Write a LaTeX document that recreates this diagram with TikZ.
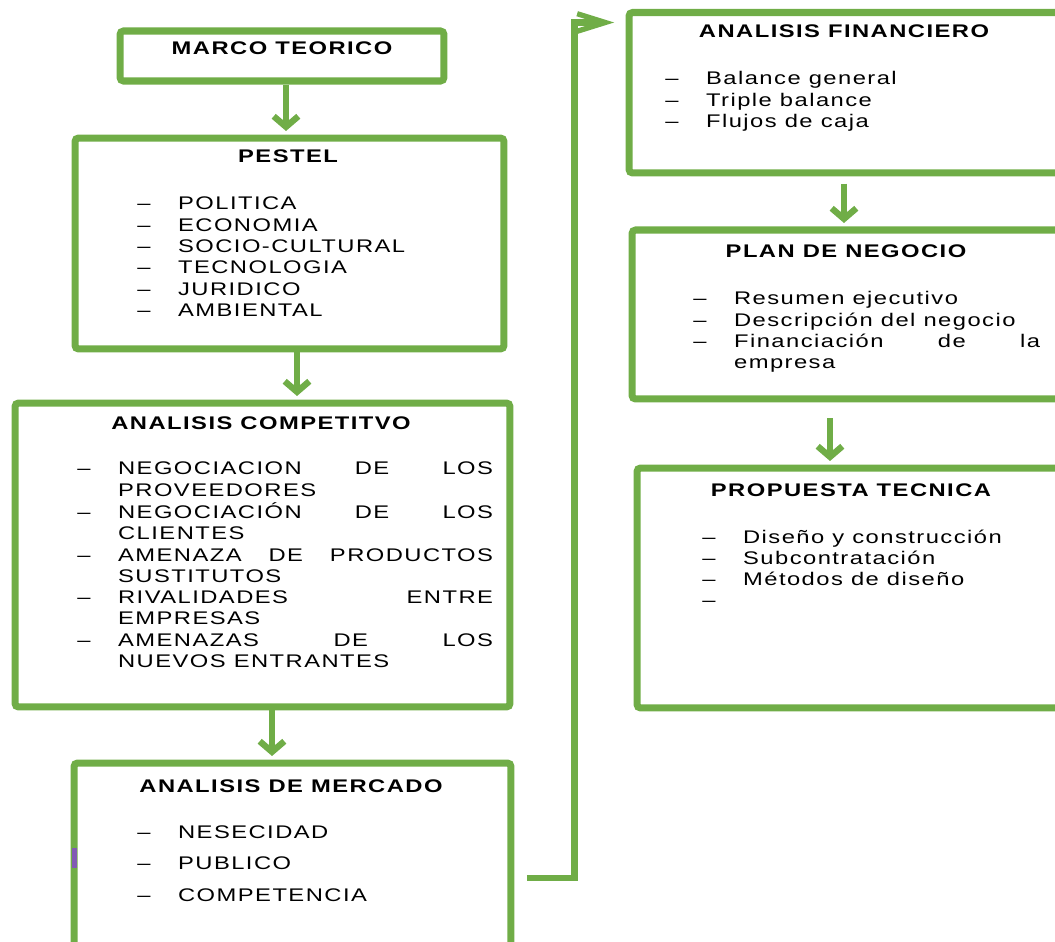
\documentclass[tikz,border=0pt]{standalone}
\usepackage{fontspec}
\setmainfont{Liberation Sans}[FakeStretch=1.3,LetterSpace=8]
\usetikzlibrary{arrows.meta,calc}
\definecolor{leaf}{RGB}{112,173,71}
\definecolor{plum}{RGB}{130,90,180}
\newcommand{\itm}[1]{\makebox[23.2pt][l]{–}#1}
\newcommand{\cnt}[1]{\hspace*{23.2pt}#1}
\newcommand{\jst}[2]{\hbox to #1{#2}}
\newcommand{\lst}[1]{\begin{tabular}[t]{@{}l@{}}#1\end{tabular}}

\begin{document}
\begin{tikzpicture}[x=0.02cm,y=-0.02cm,
    font=\fontsize{10.4}{12.1}\selectfont,
    box/.style={draw=leaf,line width=4pt,rounded corners=2pt,inner sep=0pt},
    title/.style={anchor=base,inner sep=0pt,font=\fontsize{10.4}{12.1}\selectfont\bfseries},
    items/.style={anchor=base west,inner sep=0pt},
    arr/.style={draw=leaf,line width=3.6pt,-{Straight Barb[length=6pt,width=14pt]}},
    link/.style={draw=leaf,line width=3.6pt,-{Straight Barb[length=16pt,width=10pt,line width=3pt]}}]
  \useasboundingbox (0,0) rectangle (1055,942);
  \clip (0,0) rectangle (1055,942);
  % left column
  \node[box,minimum width=6.48cm,minimum height=1cm] (marco) at (282,56) {};
  \node[box,minimum width=8.58cm,minimum height=4.22cm] (pestel) at (289.5,243.5) {};
  \node[box,minimum width=9.9cm,minimum height=6.08cm] (comp) at (262.5,555) {};
  \node[box,minimum width=8.74cm,minimum height=4.74cm] (mercado) at (292.5,881.5) {};
  % right column
  \node[box,minimum width=8.82cm,minimum height=3.21cm] (fin) at (849.5,92.75) {};
  \node[box,minimum width=8.76cm,minimum height=3.38cm] (plan) at (851,314.5) {};
  \node[box,minimum width=8.66cm,minimum height=4.8cm] (prop) at (853.5,588) {};
  \fill[plum] (72,848) rectangle (77,868);

  \node[title] (marcot) at (282,55) {MARCO TEORICO};
  \node[title] (pestelt) at (288,163) {PESTEL};
  \node[title] (compt) at (261,430) {ANALISIS COMPETITVO};
  \node[title] (mercadot) at (291,792) {ANALISIS DE MERCADO};
  \node[title] (fint) at (844,38) {ANALISIS FINANCIERO};
  \node[title] (plant) at (846,258) {PLAN DE NEGOCIO};
  \node[title] (propt) at (851,497) {PROPUESTA TECNICA};

  \node[items] (pestell) at (137,210) {\lst{\itm{POLITICA}\\ \itm{ECONOMIA}\\
    \itm{SOCIO-CULTURAL}\\ \itm{TECNOLOGIA}\\ \itm{JURIDICO}\\ \itm{AMBIENTAL}}};
  \node[items] (compl) at (77,475) {\lst{%
    \itm{\jst{7.5cm}{NEGOCIACION\hfill DE\hfill LOS}}\\ \cnt{PROVEEDORES}\\
    \itm{\jst{7.5cm}{NEGOCIACIÓN\hfill DE\hfill LOS}}\\ \cnt{CLIENTES}\\
    \itm{\jst{7.5cm}{AMENAZA\hfill DE\hfill PRODUCTOS}}\\ \cnt{SUSTITUTOS}\\
    \itm{\jst{7.5cm}{RIVALIDADES\hfill ENTRE}}\\ \cnt{EMPRESAS}\\
    \itm{\jst{7.5cm}{AMENAZAS\hfill DE\hfill LOS}}\\ \cnt{NUEVOS ENTRANTES}}};
  \node[items] (mercadol) at (137,838) {\renewcommand{\arraystretch}{1.5}%
    \lst{\itm{NESECIDAD}\\ \itm{PUBLICO}\\ \itm{COMPETENCIA}}};
  \node[items] (finl) at (665,85) {\lst{\itm{Balance general}\\
    \itm{Triple balance}\\ \itm{Flujos de caja}}};
  \node[items] (planl) at (693,305) {\lst{\itm{Resumen ejecutivo}\\
    \itm{Descripción del negocio}\\ \itm{\jst{6.12cm}{Financiación\hfill de\hfill la}}\\
    \cnt{empresa}}};
  \node[items] (propl) at (702,543) {\lst{\itm{Diseño y construcción}\\
    \itm{Subcontratación}\\ \itm{Métodos de diseño}\\ \itm{}}};

  % arrows
  \coordinate (a1) at ($(marco.south)+(4,0)$);
  \coordinate (a2) at ($(pestel.south)+(7.5,0)$);
  \coordinate (a3) at ($(comp.south)+(9.5,0)$);
  \coordinate (a5) at ($(fin.south)+(-5.5,0)$);
  \coordinate (a6) at ($(plan.south)+(-21,0)$);
  \coordinate (m4) at ($(mercado.east)+(0,-3.5)$);
  \coordinate (f4) at ($(fin.north west)+(0,13.5)$);
  \draw[arr,shorten >=2pt] (a1) -- (a1 |- pestel.north);
  \draw[arr,shorten >=2pt] (a2) -- (a2 |- comp.north);
  \draw[arr,shorten >=2pt] (a3) -- (a3 |- mercado.north);
  \draw[arr,shorten <=4pt,shorten >=2pt] (a5) -- (a5 |- plan.north);
  \draw[arr,shorten <=9pt,shorten >=2pt] (a6) -- (a6 |- prop.north);
  \draw[link,shorten <=7pt,shorten >=6.5pt] (m4) -- ++(60,0) |- (f4);
\end{tikzpicture}
\end{document}
